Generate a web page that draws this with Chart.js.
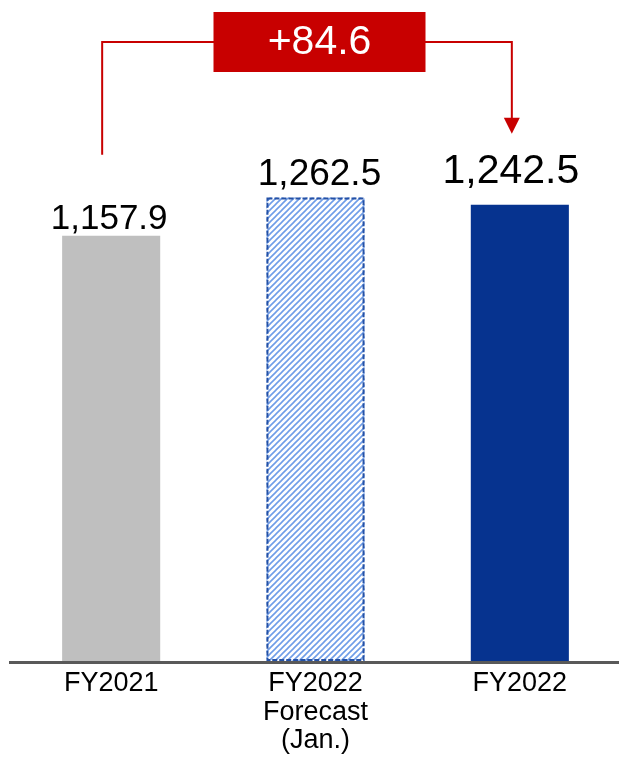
<!DOCTYPE html>
<html>
<head>
<meta charset="utf-8">
<script src="https://cdn.jsdelivr.net/npm/chart.js@4"></script>
<style>
  html, body { margin: 0; padding: 0; background: #fff; overflow: hidden; }
  #wrap { width: 619px; height: 758px; overflow: hidden; }
</style>
</head>
<body>
<div id="wrap"><canvas id="salesChart" width="622" height="758"></canvas></div>
<script>
// 실적 데이터
const categories = [['FY2021'], ['FY2022', 'Forecast', '(Jan.)'], ['FY2022']];
const values = [1157.9, 1262.5, 1242.5];
const valueLabels = ['1,157.9', '1,262.5', '1,242.5'];

const FONT = '"Liberation Sans", Arial, sans-serif';

// 예상치 막대용 사선 패턴
function makeHatch() {
    const size = 6;
    const c = document.createElement('canvas');
    c.width = size;
    c.height = size;
    const g = c.getContext('2d');
    g.fillStyle = '#ffffff';
    g.fillRect(0, 0, size, size);
    g.strokeStyle = '#6f9de8';
    g.lineWidth = 1.6;
    g.beginPath();
    g.moveTo(-1, size + 1); g.lineTo(size + 1, -1);
    g.moveTo(-1, 1); g.lineTo(1, -1);
    g.moveTo(size - 1, size + 1); g.lineTo(size + 1, size - 1);
    g.stroke();
    return g.createPattern(c, 'repeat');
}

const ctx = document.getElementById('salesChart').getContext('2d');
const hatch = makeHatch();

// 막대 위 수치, 예상치 점선 테두리, 증감 화살표
const overlayPlugin = {
    id: 'overlay',
    afterDatasetsDraw(chart) {
        const c = chart.ctx;
        const bars = chart.getDatasetMeta(0).data;
        const area = chart.chartArea;

        // 예상치 막대 점선 테두리
        const fb = bars[1].getProps(['x', 'y', 'base', 'width'], true);
        c.save();
        c.strokeStyle = '#2451a6';
        c.lineWidth = 2;
        c.setLineDash([5, 2]);
        c.strokeRect(fb.x - fb.width / 2 + 1, fb.y + 1, fb.width - 2, fb.base - fb.y - 2);
        c.restore();

        // 가로축 선
        c.save();
        c.fillStyle = '#595959';
        c.fillRect(area.left, area.bottom, area.right - area.left, 3);
        c.restore();

        // 수치 라벨 (막대마다 크기, 위치 조금씩 다름)
        const sizes = [35, 37, 41];
        const gaps = [7, 12, 22];
        const shifts = [-2, 4, -9];
        c.save();
        c.fillStyle = '#000';
        c.textAlign = 'center';
        c.textBaseline = 'alphabetic';
        bars.forEach((bar, i) => {
            c.font = sizes[i] + 'px ' + FONT;
            c.fillText(valueLabels[i], bar.x + shifts[i], bar.y - gaps[i]);
        });
        c.restore();

        // FY2021 -> FY2022 증감 브래킷
        const b0 = bars[0], b2 = bars[2];
        const x0 = b0.x - 9, x2 = b2.x - 8;
        const yTop = 42;
        const red = '#c80000';
        c.save();
        c.strokeStyle = red;
        c.lineWidth = 2;
        c.beginPath();
        c.moveTo(x0, b0.y - 81);
        c.lineTo(x0, yTop);
        c.lineTo(x2, yTop);
        c.lineTo(x2, b2.y - 86);
        c.stroke();
        c.fillStyle = red;
        c.beginPath();
        c.moveTo(x2 - 8, b2.y - 87);
        c.lineTo(x2 + 8, b2.y - 87);
        c.lineTo(x2, b2.y - 71);
        c.closePath();
        c.fill();

        // 증감 박스
        const diff = values[2] - values[0];
        const bw = 212, bh = 60;
        const cx = bars[1].x + 4;
        c.fillRect(cx - bw / 2, yTop - 30, bw, bh);
        c.fillStyle = '#fff';
        c.font = '41px ' + FONT;
        c.textAlign = 'center';
        c.textBaseline = 'middle';
        c.fillText('+' + diff.toFixed(1), cx, yTop + 1);
        c.restore();
    }
};

new Chart(ctx, {
    type: 'bar',
    data: {
        labels: categories,
        datasets: [{
            data: values,
            backgroundColor: ['#bfbfbf', hatch, '#06338f'],
            borderWidth: 0,
            categoryPercentage: 1,
            barPercentage: 0.48
        }]
    },
    options: {
        responsive: false,
        animation: false,
        layout: { padding: { left: 9, right: 0, top: 0, bottom: 0 } },
        plugins: {
            legend: { display: false },
            tooltip: { enabled: false }
        },
        scales: {
            x: {
                grid: { display: false, drawTicks: false },
                border: { display: false },
                ticks: {
                    color: '#000',
                    padding: 9,
                    maxRotation: 0,
                    autoSkip: false,
                    font: { family: FONT, size: 27, lineHeight: 1.04 }
                },
                afterFit(scale) { scale.height = 97; }
            },
            y: {
                display: false,
                min: 0,
                max: 1800
            }
        }
    },
    plugins: [overlayPlugin]
});
</script>
</body>
</html>
